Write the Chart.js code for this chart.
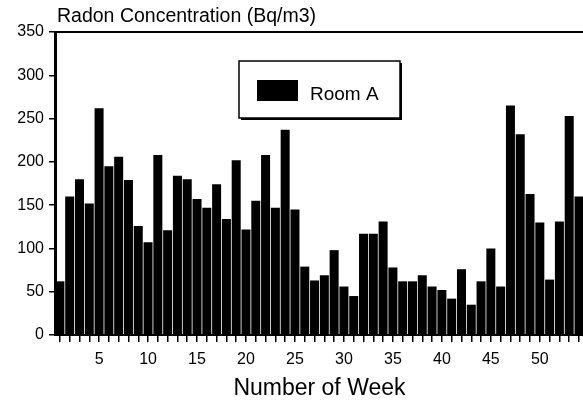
<!DOCTYPE html>
<html>
<head>
<meta charset="utf-8">
<title>Radon Concentration</title>
<script src="https://cdn.jsdelivr.net/npm/chart.js@4.4.1/dist/chart.umd.min.js"></script>
<style>
  html, body { margin: 0; padding: 0; background: #fff; overflow: hidden; }
  canvas { display: block; }
</style>
</head>
<body>
<!-- o gráfico original está cortado à direita: canvas um pouco mais largo que a janela -->
<canvas id="myChart" width="587" height="405"></canvas>
<script>
// Dados
const weeks = [1, 2, 3, 4, 5, 6, 7, 8, 9, 10,
               11, 12, 13, 14, 15, 16, 17, 18, 19, 20,
               21, 22, 23, 24, 25, 26, 27, 28, 29, 30,
               31, 32, 33, 34, 35, 36, 37, 38, 39, 40,
               41, 42, 43, 44, 45, 46, 47, 48, 49, 50,
               51, 52, 53, 54];
const roomA = [62, 160, 180, 152, 262, 195, 206, 179, 126, 107,
               208, 121, 184, 180, 157, 147, 174, 134, 202, 122,
               155, 208, 147, 237, 145, 79, 63, 69, 98, 56,
               45, 117, 117, 131, 78, 62, 62, 69, 56, 52,
               42, 76, 35, 62, 100, 56, 265, 232, 163, 130,
               64, 131, 253, 160];
const weekLabels = [5, 10, 15, 20, 25, 30, 35, 40, 45, 50];
const yMin = 0;
const yMax = 350;
const yStep = 50;
const seriesName = 'Room A';
const yTitle = 'Radon Concentration (Bq/m3)';
const xTitle = 'Number of Week';

const fonte = '"Liberation Sans", Arial, Helvetica, sans-serif';

window.onload = function() {
    Chart.defaults.font.family = fonte;
    Chart.defaults.color = '#000';

    // Linha de cima da moldura + título do eixo y
    const moldura = {
        id: 'moldura',
        afterDraw(chart) {
            const ctx = chart.ctx;
            const area = chart.chartArea;
            ctx.save();
            ctx.strokeStyle = '#000';
            ctx.lineWidth = 2;
            ctx.beginPath();
            ctx.moveTo(area.left, area.top);
            ctx.lineTo(chart.width, area.top);
            ctx.stroke();
            ctx.fillStyle = '#000';
            ctx.font = '19.5px ' + fonte;
            ctx.textAlign = 'left';
            ctx.textBaseline = 'alphabetic';
            ctx.fillText(yTitle, area.left + 2, area.top - 10);
            ctx.restore();
        }
    };

    // Legenda com caixa e sombra
    const legenda = {
        id: 'legenda',
        afterDraw(chart) {
            const ctx = chart.ctx;
            const area = chart.chartArea;
            const ds = chart.data.datasets[0];
            const x = area.left + 184, y = area.top + 29, w = 161, h = 57;
            ctx.save();
            ctx.fillStyle = '#000';
            ctx.fillRect(x + 2, y + 2, w, h); // sombra
            ctx.fillStyle = '#fff';
            ctx.fillRect(x, y, w, h);
            ctx.strokeStyle = '#000';
            ctx.lineWidth = 1.5;
            ctx.strokeRect(x, y, w, h);
            ctx.fillStyle = ds.backgroundColor;
            ctx.fillRect(x + 18, y + 19, 41, 21);
            ctx.fillStyle = '#000';
            ctx.font = '19px ' + fonte;
            ctx.textAlign = 'left';
            ctx.textBaseline = 'alphabetic';
            ctx.fillText(ds.label, x + 71, y + 39);
            ctx.restore();
        }
    };

    const ctx = document.getElementById('myChart').getContext('2d');
    const myChart = new Chart(ctx, {
        type: 'bar',
        data: {
            labels: weeks,
            datasets: [{
                label: seriesName,
                data: roomA,
                backgroundColor: '#000',
                borderWidth: 0,
                barPercentage: 0.92,
                categoryPercentage: 1.0
            }]
        },
        options: {
            responsive: false,
            animation: false,
            layout: {
                padding: { top: 32, right: 0, bottom: 0, left: 0 }
            },
            plugins: {
                legend: { display: false }, // legenda feita no plugin
                tooltip: { enabled: false },
                title: { display: false }
            },
            scales: {
                x: {
                    offset: true,
                    grid: {
                        display: true,
                        drawOnChartArea: false,
                        offset: false, // traço no meio da barra
                        tickLength: 7,
                        color: '#000',
                        lineWidth: 1.5
                    },
                    border: { display: true, color: '#000', width: 2 },
                    ticks: {
                        autoSkip: false,
                        maxRotation: 0,
                        minRotation: 0,
                        padding: 8,
                        color: '#000',
                        font: { size: 16 },
                        callback: function(value, index) {
                            const w = weeks[index];
                            return weekLabels.includes(w) ? String(w) : '';
                        }
                    },
                    title: {
                        display: true,
                        text: xTitle,
                        color: '#000',
                        font: { size: 23 },
                        padding: { top: 0, bottom: 3 }
                    },
                    afterFit: function(scale) { scale.height = 70; }
                },
                y: {
                    min: yMin,
                    max: yMax,
                    grid: {
                        display: true,
                        drawOnChartArea: false,
                        tickLength: 6,
                        color: '#000',
                        lineWidth: 1.5
                    },
                    border: { display: true, color: '#000', width: 3 },
                    ticks: {
                        stepSize: yStep,
                        padding: 5,
                        color: '#000',
                        font: { size: 16 }
                    },
                    afterFit: function(scale) { scale.width = 55; }
                }
            }
        },
        plugins: [moldura, legenda]
    });
};
</script>
</body>
</html>
